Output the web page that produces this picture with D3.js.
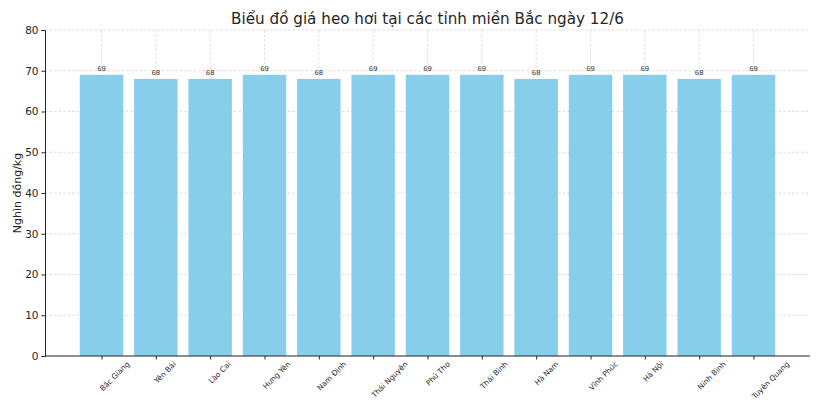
<!DOCTYPE html>
<html><head><meta charset="utf-8">
<script src="https://cdn.jsdelivr.net/npm/d3@7"></script>
<style>
body{margin:0;background:#fff;}
svg{display:block;font-family:"DejaVu Sans",sans-serif;}
</style></head>
<body>
<svg id="c" width="820" height="410"></svg>
<script>
const provinces = ["Bắc Giang","Yên Bái","Lào Cai","Hưng Yên","Nam Định","Thái Nguyên","Phú Thọ","Thái Bình","Hà Nam","Vĩnh Phúc","Hà Nội","Ninh Bình","Tuyên Quang"];
const prices = [69,68,68,69,68,69,69,69,68,69,69,68,69];
const yTicks = [0,10,20,30,40,50,60,70,80];
const titleText = "Biểu đồ giá heo hơi tại các tỉnh miền Bắc ngày 12/6";
const yLabel = "Nghìn đồng/kg";

const svg = d3.select("#c");
const L = 45, R = 810, T = 30, B = 356;
const n = provinces.length;
const x = d3.scaleLinear().domain([-0.4 - 0.64, n - 1 + 0.4 + 0.64]).range([L, R]);
const y = d3.scaleLinear().domain([0, 80]).range([B, T]);
const bw = x(0.8) - x(0);

// grid
const grid = svg.append("g");
yTicks.forEach(t => {
  grid.append("line").attr("x1", L).attr("x2", R).attr("y1", y(t)).attr("y2", y(t))
    .attr("stroke", "#d4d4d4").attr("stroke-width", 0.8).attr("stroke-dasharray", "2.5,2");
});
provinces.forEach((p, i) => {
  grid.append("line").attr("x1", x(i)).attr("x2", x(i)).attr("y1", T).attr("y2", B)
    .attr("stroke", "#d4d4d4").attr("stroke-width", 0.8).attr("stroke-dasharray", "2.5,2");
});

// bars
svg.append("g").selectAll("rect").data(prices).join("rect")
  .attr("x", (d, i) => x(i) - bw / 2)
  .attr("width", bw)
  .attr("y", d => y(d))
  .attr("height", d => B - y(d))
  .attr("fill", "#87CEEB");

// value labels
svg.append("g").selectAll("text").data(prices).join("text")
  .attr("x", (d, i) => x(i))
  .attr("y", d => y(d) - 3.5)
  .attr("text-anchor", "middle")
  .attr("font-size", 6.8)
  .attr("fill", "#333")
  .text(d => d);

// axes
const yAxis = d3.axisLeft(y).tickValues(yTicks).tickSize(3.5).tickPadding(3);
const gy = svg.append("g").attr("transform", `translate(${L},0)`).call(yAxis);
gy.select(".domain").attr("stroke", "#262626").attr("stroke-width", 1);
gy.selectAll(".tick line").attr("stroke", "#262626");
gy.selectAll(".tick text").attr("font-size", 10.5).attr("fill", "#262626").attr("font-family", "DejaVu Sans");

const xAxis = d3.axisBottom(x).tickValues(d3.range(n)).tickSize(3.5).tickFormat(() => "");
const gx = svg.append("g").attr("transform", `translate(0,${B})`).call(xAxis);
gx.select(".domain").attr("stroke", "#262626").attr("stroke-width", 1).attr("d", `M${L},0H${R}`);
gx.selectAll(".tick line").attr("stroke", "#262626");

// rotated x labels
const fs = 7.5;
const lab = svg.append("g").attr("font-size", fs).attr("fill", "#262626");
provinces.forEach((p, i) => {
  const t = lab.append("text").attr("text-anchor", "start").text(p);
  const len = t.node().getComputedTextLength();
  const a = fs * 0.76;
  const x0 = x(i) + 1.5;
  const y0 = B + 4.5 + (len + a) * Math.SQRT1_2;
  t.attr("transform", `translate(${x0},${y0}) rotate(-45)`);
});

// title
svg.append("text").attr("x", (L + R) / 2).attr("y", 24).attr("text-anchor", "middle")
  .attr("font-size", 15.2).attr("fill", "#262626").text(titleText);

// y label
svg.append("text").attr("transform", `translate(21,${(T + B) / 2}) rotate(-90)`)
  .attr("text-anchor", "middle").attr("font-size", 11).attr("fill", "#262626").text(yLabel);
</script>
</body></html>
